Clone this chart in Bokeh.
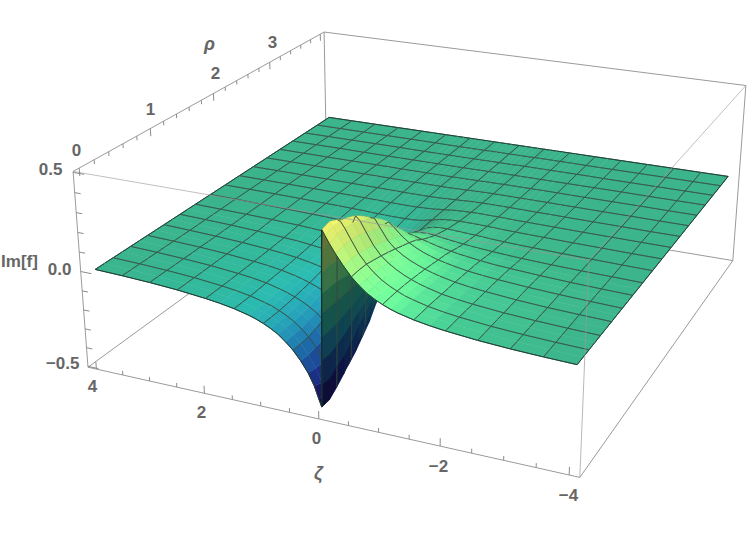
import numpy as np
from bokeh.plotting import figure
from bokeh.models import Range1d, ColumnDataSource
from bokeh.core.properties import value
from bokeh.embed import file_html
from bokeh.resources import INLINE

# ---- data (|Im f| for one sign of zeta; the other sign mirrors it)
zeta_nodes = [0, .006, .012, .02, .03, .08, .15, .25, .375, .5, .625, .75, .875, 1, 1.125, 1.25,
              1.5, 1.75, 2, 2.5, 3, 3.5, 4]
rho_nodes = [0, .125, .25, .375, .5, .625, .75, .875, 1, 1.125, 1.25, 1.375, 1.5,
             1.75, 2, 2.25, 2.5, 2.75, 3, 3.25, 3.5, 3.75, 4]
im_f_rows = [
 [0,.10,.20,.31,.41,.385,.35,.305,.255,.21,.175,.145,.123,.105,.09,.078,.06,.047,.037,.022,.012,.005,0],
 [0,.10,.21,.32,.42,.40,.365,.315,.26,.212,.176,.146,.124,.106,.09,.079,.06,.047,.037,.022,.012,.005,0],
 [0,.10,.20,.30,.40,.395,.365,.315,.255,.21,.175,.146,.124,.106,.09,.079,.06,.047,.037,.022,.012,.005,0],
 [0,.09,.18,.28,.37,.385,.36,.31,.25,.20,.168,.142,.12,.104,.089,.078,.058,.046,.036,.022,.012,.005,0],
 [0,.08,.16,.25,.33,.365,.345,.295,.235,.19,.16,.136,.116,.10,.086,.075,.056,.044,.035,.021,.012,.005,0],
 [0,.07,.14,.21,.28,.335,.325,.275,.22,.178,.15,.128,.11,.095,.082,.072,.054,.043,.034,.021,.012,.005,0],
 [0,.06,.12,.18,.24,.30,.30,.255,.20,.165,.14,.12,.104,.09,.078,.068,.052,.041,.033,.02,.011,.005,0],
 [0,.05,.09,.14,.19,.26,.265,.23,.185,.15,.13,.11,.096,.083,.072,.063,.049,.039,.032,.02,.011,.005,0],
 [0,.035,.07,.10,.14,.21,.225,.20,.165,.137,.117,.10,.087,.076,.067,.059,.046,.037,.03,.019,.011,.005,0],
 [0,.02,.04,.06,.085,.145,.17,.16,.14,.12,.105,.09,.079,.07,.061,.054,.043,.034,.028,.018,.01,.005,0],
 [0,.01,.02,.03,.04,.08,.11,.115,.105,.095,.085,.075,.067,.06,.053,.048,.038,.03,.025,.016,.009,.004,0],
 [0,.004,.008,.014,.02,.05,.075,.085,.082,.075,.068,.06,.053,.048,.043,.039,.031,.025,.02,.013,.008,.004,0],
 [0,.002,.004,.008,.012,.03,.05,.06,.062,.058,.052,.047,.042,.038,.034,.031,.025,.02,.016,.01,.006,.003,0],
 [0,.001,.002,.003,.004,.012,.022,.03,.034,.034,.032,.03,.028,.026,.024,.021,.017,.014,.012,.008,.005,.002,0],
 [0,0,.001,.001,.002,.005,.01,.014,.017,.018,.018,.018,.017,.016,.015,.013,.011,.009,.008,.005,.003,.001,0],
 [0,0,0,.001,.001,.002,.005,.007,.009,.01,.011,.011,.01,.01,.009,.008,.007,.006,.005,.003,.002,.001,0],
 [0,0,0,0,.001,.001,.002,.004,.005,.006,.006,.006,.006,.006,.005,.005,.004,.004,.003,.002,.001,0,0],
 [0,0,0,0,0,.001,.001,.002,.003,.003,.003,.003,.003,.003,.003,.003,.003,.002,.002,.001,.001,0,0],
 [0,0,0,0,0,0,.001,.001,.001,.002,.002,.002,.002,.002,.002,.002,.002,.001,.001,.001,.001,0,0],
 [0,0,0,0,0,0,0,.001,.001,.001,.001,.001,.001,.001,.001,.001,.001,.001,.001,.001,0,0,0],
 [0,0,0,0,0,0,0,0,.001,.001,.001,.001,.001,.001,.001,.001,.001,.001,0,0,0,0,0],
 [0,0,0,0,0,0,0,0,0,.001,.001,.001,.001,.001,.001,.001,0,0,0,0,0,0,0],
 [0,0,0,0,0,0,0,0,0,0,0,0,0,0,0,0,0,0,0,0,0,0,0],
]
# the trough on the positive-zeta side runs a little deeper than the ridge is high
# (first eight rho rows, zeta nodes .006 ... .375)
im_f_lower_extra = [
 [.015,.03,.045,.06,.045,.02,.005,0],
 [.013,.025,.04,.05,.05,.025,.005,0],
 [.01,.02,.03,.04,.045,.03,.01,0],
 [.01,.02,.03,.035,.04,.03,.01,0],
 [.01,.015,.025,.03,.035,.025,.01,0],
 [.005,.01,.015,.025,.03,.025,.01,0],
 [0,.005,.01,.015,.02,.015,.01,0],
 [0,0,.005,.01,.015,.01,.005,0],
]
zeta_ticks = [4, 2, 0, -2, -4]
rho_ticks = [0, 1, 2, 3]
z_ticks = [0.5, 0.0, -0.5]

# ---- camera: 3D box points and where the picture shows them
ZB, RB0, RB1, HB = 4.16, -0.08, 4.08, 0.505
cam_world = [(ZB, RB0, HB), (ZB, RB0, -HB), (-ZB, RB0, HB), (-ZB, RB0, -HB), (ZB, RB1, HB),
             (-ZB, RB1, HB), (-ZB, RB1, -HB), (4, 0, 0), (-4, 0, 0), (4, 4, 0), (-4, 4, 0)]
cam_pixel = [(72, 170), (88, 366), (588, 260), (579, 478), (325, 31),
             (745.5, 85.5), (733, 259), (95, 270.5), (577, 363), (327, 117.5), (727, 176.5)]
A = []
for (X, Y, Z), (u, v) in zip(cam_world, cam_pixel):
    A.append([X, Y, Z, 1, 0, 0, 0, 0, -u*X, -u*Y, -u*Z, -u])
    A.append([0, 0, 0, 0, X, Y, Z, 1, -v*X, -v*Y, -v*Z, -v])
P = np.linalg.svd(np.array(A, float))[2][-1].reshape(3, 4)
if P[2] @ np.array([0, 4, 0, 1]) < P[2] @ np.array([0, 0, 0, 1]):
    P = -P


def proj(X, Y, Z):
    h = P @ np.array([X, Y, Z, 1.0])
    return h[0]/h[2], h[1]/h[2], h[2]


# ---- colour by height, shaded by a light
stops_z = [-.47, -.36, -.25, -.15, -.07, -.02, 0, .04, .09, .15, .22, .32, .43]
stops_c = [(28, 8, 88), (32, 50, 150), (30, 100, 170), (35, 150, 178), (42, 180, 170),
           (52, 182, 150), (60, 180, 140), (72, 205, 148), (100, 238, 150), (125, 250, 150),
           (160, 255, 140), (215, 250, 120), (252, 248, 110)]
stops_c = np.array(stops_c, float)
light = np.array([-.42, -.4, 1.0])
light /= np.linalg.norm(light)


def colour(z, n):
    c = np.array([np.interp(z, stops_z, stops_c[:, i]) for i in range(3)])
    dif = max(0.0, float(n @ light))
    s = (0.42 + 0.58*dif) / (0.42 + 0.58*light[2])
    c = np.clip(c*min(s, 1.1), 0, 255).astype(int)
    return "#%02x%02x%02x" % tuple(c)


# ---- full surface grid from the table
zn = np.array(zeta_nodes, float)
zeta_all = np.concatenate([zn[::-1], -zn[1:]])      # 4 ... 0 ... -4
rows = np.array(im_f_rows, float)
lower = rows.copy()
for i, extra in enumerate(im_f_lower_extra):
    lower[i, 1:1+len(extra)] += extra
H = np.hstack([-lower[:, ::-1], rows[:, 1:]])
rn = np.array(rho_nodes, float)
nr, nz = H.shape
px = np.zeros((nr, nz)); py = np.zeros((nr, nz)); pw = np.zeros((nr, nz))
for i in range(nr):
    for j in range(nz):
        px[i, j], py[i, j], pw[i, j] = proj(zeta_all[j], rn[i], H[i, j])
bias = 0.003*(pw.max()-pw.min())

items = []
keys = np.zeros((nr-1, nz-1))
for i in range(nr-1):
    for j in range(nz-1):
        keys[i, j] = (pw[i, j]+pw[i+1, j]+pw[i, j+1]+pw[i+1, j+1])/4
        d1 = np.array([(zeta_all[j+1]-zeta_all[j])/8, (rn[i+1]-rn[i])/4, (H[i+1, j+1]-H[i, j])*.4])
        d2 = np.array([(zeta_all[j]-zeta_all[j+1])/8, (rn[i+1]-rn[i])/4, (H[i+1, j]-H[i, j+1])*.4])
        n = np.cross(d1, d2)
        n /= np.linalg.norm(n)
        if n[2] < 0:
            n = -n
        col = colour((H[i, j]+H[i+1, j]+H[i, j+1]+H[i+1, j+1])/4, n)
        items.append((keys[i, j],
                      [px[i, j], px[i, j+1], px[i+1, j+1], px[i+1, j]],
                      [py[i, j], py[i, j+1], py[i+1, j+1], py[i+1, j]], col, 1.0, col, 0.5, 1.0))

MESH, EDGE = "#34493f", "#1d3a30"


def seg(a, b, key, color, width, alpha):
    items.append((key - bias, [px[a], px[b]], [py[a], py[b]], color, 0.0, color, width, alpha))


mesh_r = {i for i, r in enumerate(rn) if abs(r*4 - round(r*4)) < 1e-9}
mesh_z = {j for j, z in enumerate(zeta_all) if abs(z*2 - round(z*2)) < 1e-9}
for i in mesh_r:                                      # lines of constant rho
    for j in range(nz-1):
        ks = [keys[i2, j] for i2 in (i-1, i) if 0 <= i2 < nr-1]
        border = i in (0, nr-1)
        seg((i, j), (i, j+1), min(ks), EDGE if border else MESH, .9, .85 if border else .68)
for j in mesh_z:                                      # lines of constant zeta
    for i in range(nr-1):
        ks = [keys[i, j2] for j2 in (j-1, j) if 0 <= j2 < nz-1]
        border = j in (0, nz-1)
        seg((i, j), (i+1, j), min(ks), EDGE if border else MESH, .9, .85 if border else .68)
j0 = int(np.argmin(np.abs(zeta_all)))                 # the jump at rho = 0 and the wall edge
items.sort(key=lambda t: -t[0])

p = figure(width=747, height=529, output_backend="svg", toolbar_location=None,
           x_range=Range1d(0, 747), y_range=Range1d(529, 0), min_border=0)
p.axis.visible = False
p.grid.visible = False
p.outline_line_color = None
p.background_fill_color = "white"
p.border_fill_color = "white"


def box_line(a, b, color="#9a9a9a", width=1.0, alpha=1.0):
    A_, B_ = proj(*a), proj(*b)
    p.line([A_[0], B_[0]], [A_[1], B_[1]], line_color=color, line_width=width, line_alpha=alpha)


# back of the box, behind the surface
for a, b in [((ZB, RB1, HB), (-ZB, RB1, HB)), ((ZB, RB1, HB), (ZB, RB1, -HB)),
             ((-ZB, RB1, HB), (-ZB, RB1, -HB)), ((ZB, RB1, -HB), (-ZB, RB1, -HB)),
             ((ZB, RB0, -HB), (ZB, RB1, -HB)), ((ZB, RB0, HB), (ZB, RB1, HB))]:
    box_line(a, b)

src = ColumnDataSource(dict(xs=[t[1] for t in items], ys=[t[2] for t in items],
                            fc=[t[3] for t in items], fa=[t[4] for t in items],
                            lc=[t[5] for t in items], lw=[t[6] for t in items],
                            la=[t[7] for t in items]))
p.patches("xs", "ys", source=src, fill_color="fc", fill_alpha="fa", line_color="lc",
          line_width="lw", line_alpha="la", line_join="round")

# dark edge of the wall at rho = 0
p.line(list(px[0, j0-4:j0+5]), list(py[0, j0-4:j0+5]), line_color="#12302c", line_width=1.2)

# front of the box, over the surface
for a, b, al in [((ZB, RB0, HB), (ZB, RB0, -HB), 1), ((ZB, RB0, HB), (-ZB, RB0, HB), .62),
                 ((-ZB, RB0, HB), (-ZB, RB1, HB), .62), ((-ZB, RB0, HB), (-ZB, RB0, -HB), .7),
                 ((ZB, RB0, -HB), (-ZB, RB0, -HB), 1), ((-ZB, RB0, -HB), (-ZB, RB1, -HB), 1)]:
    box_line(a, b, alpha=al)

# ticks
for k in range(0, 17):
    zt = 4 - k*.5
    L = .04 if k % 4 == 0 else .022
    box_line((zt, RB0, -HB), (zt, RB0, -HB+L), "#8c8c8c")
for k in range(0, 21):
    rt = k*.2
    L = .04 if k % 5 == 0 else .022
    box_line((ZB, rt, HB), (ZB, rt, HB-L), "#8c8c8c")
for k in range(-5, 6):
    zt = k*.1
    L = .2 if k % 5 == 0 else .11
    box_line((ZB, RB0, zt), (ZB-L, RB0, zt), "#8c8c8c")

# texts
txt = dict(text_font=value("Liberation Sans"), text_font_style="bold", text_color="#666666",
           text_font_size="17px", text_baseline="middle", text_align="center")
p.text([92, 201, 316, 438, 568], [385, 411, 437, 465, 494],
       text=[("\u2212" if t < 0 else "") + str(abs(t)) for t in zeta_ticks], **txt)
p.text([76, 150, 215, 272], [149, 108, 72, 41], text=[str(t) for t in rho_ticks], **txt)
p.text([62, 71, 79], [168, 268, 362],
       text=[("\u2212" if t < 0 else "") + "%.1f" % abs(t) for t in z_ticks],
       **{**txt, "text_align": "right"})
p.text([19], [261], text=["Im[f]"], **txt)
p.text([209], [43], text=["\u03c1"], **{**txt, "text_font_style": "bold italic", "text_font_size": "18px"})
p.text([318], [472], text=["\u03b6"], **{**txt, "text_font_style": "bold italic", "text_font_size": "18px"})

open("out.html", "w").write(file_html(p, INLINE))
